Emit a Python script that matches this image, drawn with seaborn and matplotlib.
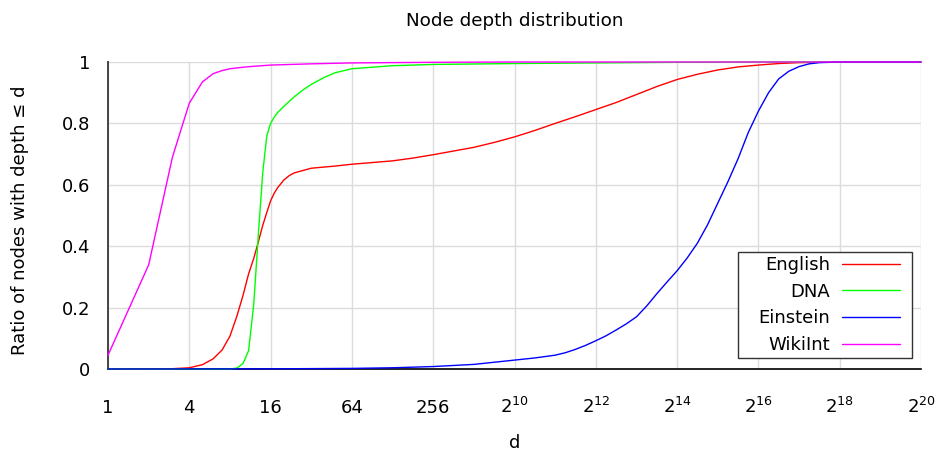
import matplotlib
matplotlib.use("Agg")
import matplotlib.pyplot as plt
import matplotlib.ticker as mticker
from matplotlib.lines import Line2D
from matplotlib.legend_handler import HandlerLine2D
import numpy as np
import pandas as pd
import seaborn as sns

# ---- data: cumulative ratio of nodes with depth <= d (depth given as log2 d) ----
series_names = ["English", "DNA", "Einstein", "WikiInt"]
series_colors = ["#ff0000", "#00ff00", "#0000ff", "#ff00ff"]

english_log2d = [0, 1, 1.585, 2, 2.322, 2.585, 2.807, 3, 3.17, 3.322, 3.459, 3.585,
                 3.7, 3.807, 3.907, 4, 4.087, 4.17, 4.322, 4.459, 4.585, 4.807, 5,
                 5.585, 6, 7, 7.5, 8, 9, 9.5, 10, 10.5, 11, 11.5, 12, 12.5, 13,
                 13.5, 14, 14.5, 15, 15.5, 16, 16.5, 17, 18, 20]
english_ratio = [0.0, 0.0005, 0.001, 0.004, 0.014, 0.033, 0.062, 0.107, 0.172, 0.24,
                 0.31, 0.36, 0.415, 0.468, 0.51, 0.548, 0.572, 0.59, 0.615, 0.63,
                 0.639, 0.647, 0.654, 0.661, 0.667, 0.678, 0.687, 0.698, 0.722,
                 0.738, 0.756, 0.777, 0.80, 0.822, 0.845, 0.868, 0.894, 0.92, 0.943,
                 0.96, 0.974, 0.984, 0.99, 0.995, 0.998, 1.0, 1.0]

dna_log2d = [0, 1, 2, 3, 3.17, 3.322, 3.459, 3.585, 3.7, 3.807, 3.907, 4, 4.087,
             4.17, 4.322, 4.585, 4.807, 5, 5.322, 5.585, 6, 7, 8, 10, 12, 14, 16, 20]
dna_ratio = [0.0, 0.0, 0.0, 0.0, 0.003, 0.018, 0.06, 0.21, 0.44, 0.64, 0.76, 0.80,
             0.82, 0.835, 0.855, 0.887, 0.91, 0.927, 0.95, 0.965, 0.978, 0.988,
             0.992, 0.995, 0.997, 0.999, 1.0, 1.0]

einstein_log2d = [0, 4, 6, 7, 8, 9, 10, 10.5, 11, 11.25, 11.5, 11.75, 12, 12.25,
                  12.5, 12.75, 13, 13.25, 13.5, 13.75, 14, 14.25, 14.5, 14.75, 15,
                  15.25, 15.5, 15.75, 16, 16.25, 16.5, 16.75, 17, 17.25, 17.5, 18, 20]
einstein_ratio = [0.0, 0.0005, 0.002, 0.004, 0.008, 0.015, 0.029, 0.036, 0.045,
                  0.053, 0.064, 0.077, 0.092, 0.108, 0.127, 0.147, 0.17, 0.205,
                  0.245, 0.283, 0.32, 0.362, 0.41, 0.47, 0.54, 0.61, 0.685, 0.77,
                  0.84, 0.9, 0.945, 0.97, 0.985, 0.994, 0.998, 1.0, 1.0]

wikiint_log2d = [0, 1, 1.585, 2, 2.322, 2.585, 2.807, 3, 3.322, 3.585, 4, 5, 6, 7,
                 8, 10, 20]
wikiint_ratio = [0.045, 0.339, 0.69, 0.866, 0.935, 0.962, 0.972, 0.978, 0.983,
                 0.986, 0.99, 0.994, 0.997, 0.998, 0.999, 1.0, 1.0]

x_tick_log2 = [0, 2, 4, 6, 8, 10, 12, 14, 16, 18, 20]
x_tick_labels = ["1", "4", "16", "64", "256", r"$2^{10}$", r"$2^{12}$", r"$2^{14}$",
                 r"$2^{16}$", r"$2^{18}$", r"$2^{20}$"]
y_ticks = [0, 0.2, 0.4, 0.6, 0.8, 1.0]
y_tick_labels = ["0", "0.2", "0.4", "0.6", "0.8", "1"]

# ---- long-form table ----
frames = []
for name, l2d, ratio in zip(series_names,
                            [english_log2d, dna_log2d, einstein_log2d, wikiint_log2d],
                            [english_ratio, dna_ratio, einstein_ratio, wikiint_ratio]):
    frames.append(pd.DataFrame({"series": name,
                                "depth": np.power(2.0, l2d),
                                "ratio": ratio}))
df = pd.concat(frames, ignore_index=True)


class GapLineHandler(HandlerLine2D):
    """Legend line sample that leaves some empty space on its right."""

    def __init__(self, gap=0.0, **kw):
        super().__init__(**kw)
        self.gap = gap

    def create_artists(self, legend, orig_handle, xdescent, ydescent, width,
                       height, fontsize, trans):
        return super().create_artists(legend, orig_handle, xdescent, ydescent,
                                      width - self.gap * fontsize, height,
                                      fontsize, trans)


# ---- style ----
sns.set_style("white")
plt.rcParams["font.family"] = ["DejaVu Sans"]
plt.rcParams["mathtext.fontset"] = "dejavusans"
plt.rcParams["text.color"] = "black"
plt.rcParams["axes.labelcolor"] = "black"

fig = plt.figure(figsize=(9.39, 4.53), dpi=100)
ax = fig.add_axes([108 / 939, 1 - 369 / 453, 813 / 939, 307 / 453])

for name, color in zip(series_names, series_colors):
    sns.lineplot(data=df[df["series"] == name], x="depth", y="ratio",
                 color=color, label=name, linewidth=1.0, estimator=None,
                 sort=False, ax=ax, clip_on=False, zorder=3)

ax.set_xscale("log", base=2)
ax.set_xlim(1, 2 ** 20)
ax.set_ylim(0, 1)
ax.set_xticks(np.power(2.0, x_tick_log2))
ax.set_xticklabels(x_tick_labels)
ax.xaxis.set_minor_locator(mticker.NullLocator())
ax.set_yticks(y_ticks)
ax.set_yticklabels(y_tick_labels)

ax.grid(True, color="#dcdcdc", linewidth=1.0, zorder=0)
ax.set_axisbelow(True)

for side in ("top", "right"):
    ax.spines[side].set_visible(False)
ax.spines["left"].set_color("#444444")
ax.spines["left"].set_linewidth(1.4)
ax.spines["bottom"].set_color("#000000")
ax.spines["bottom"].set_linewidth(1.2)

ax.tick_params(axis="x", direction="out", length=5, width=1.2, color="#333333",
               pad=26.5, labelsize=13, labelcolor="#000000")
ax.tick_params(axis="y", direction="out", length=5, width=1.2, color="#444444",
               pad=8, labelsize=13, labelcolor="#000000")
for lbl in ax.get_xticklabels():
    lbl.set_verticalalignment("baseline")

ax.set_title("Node depth distribution", fontsize=13.2, pad=26, color="black")
ax.set_xlabel("d", fontsize=13)
ax.set_ylabel("Ratio of nodes with depth \u2264 d", fontsize=13)
ax.xaxis.set_label_coords(0.5, -0.213)
ax.yaxis.set_label_coords(-0.097, 0.484)

# legend: labels right-aligned, line samples on the right
handles, labels = ax.get_legend_handles_labels()
leg = ax.legend(handles, labels, loc="lower right", bbox_to_anchor=(0.989, 0.036),
                markerfirst=False, frameon=True, fancybox=False, shadow=False,
                framealpha=1.0, edgecolor="#333333", fontsize=13,
                handlelength=3.655, handletextpad=0.665, labelspacing=0.48,
                borderpad=0.22, borderaxespad=0.0,
                handler_map={Line2D: GapLineHandler(gap=0.443)})
leg.get_frame().set_linewidth(1.0)
for txt in leg.get_texts():
    txt.set_color("black")

columns = leg._legend_handle_box.get_children()
for column in columns:
    column.align = "right"
fig.canvas.draw()
renderer = fig.canvas.get_renderer()
for column in columns:
    natural = column.get_bbox(renderer).width
    column.width = natural + 16

fig.savefig("out.png", dpi=100)
